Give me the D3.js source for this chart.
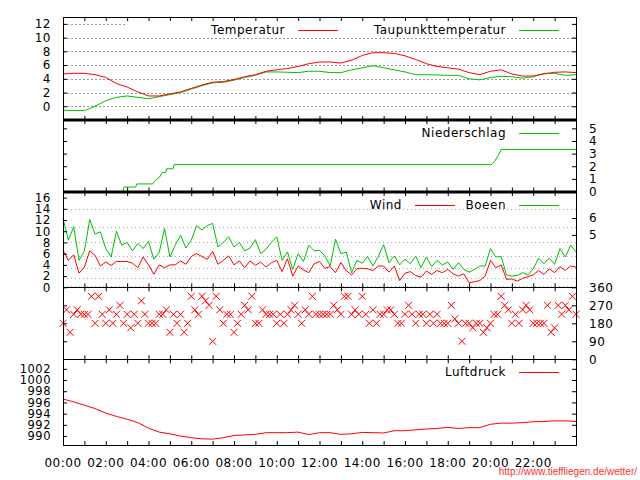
<!DOCTYPE html>
<html>
<head>
<meta charset="utf-8">
<script src="https://cdn.jsdelivr.net/npm/d3@7"></script>
<style>
  body { margin: 0; background: #fff; }
  svg text { font-family: "DejaVu Sans", sans-serif; font-size: 12px; letter-spacing: 0.5px; fill: #000; }
  .grid1 { stroke: #9a9a9a; stroke-dasharray: 2,2; }
  .grid3 { stroke: #a8a8a8; stroke-dasharray: 1,3; }
  .tick line { stroke: #000; }
</style>
</head>
<body>
<div id="chart"></div>
<script>
// x axis labels (every 2 hours)
var hourLabels = ["00:00", "02:00", "04:00", "06:00", "08:00", "10:00",
                  "12:00", "14:00", "16:00", "18:00", "20:00", "22:00"];

// temperature / dew point / pressure, one value every 30 min (00:00 .. 24:00)
var temperatur = [4.7, 4.8, 4.8, 4.6, 4.2, 3.3, 2.8, 2.1, 1.5, 1.5, 1.8, 2.1, 2.6, 3.1, 3.5, 3.6,
  3.9, 4.3, 4.6, 5.1, 5.3, 5.5, 5.8, 6.2, 6.45, 6.45, 6.3, 6.7, 7.4, 7.8, 7.8, 7.7,
  7.35, 6.8, 6.2, 5.8, 5.6, 5.4, 4.9, 4.6, 5.1, 5.3, 4.7, 4.4, 4.4, 4.7, 4.95, 5.0, 4.9];
var taupunkt = [-0.6, -0.6, -0.65, 0.0, 0.8, 1.3, 1.5, 1.3, 1.1, 1.4, 1.7, 2.0, 2.5, 3.0, 3.4, 3.5,
  3.8, 4.2, 4.5, 5.0, 5.0, 4.95, 4.9, 5.1, 5.1, 4.9, 4.9, 5.3, 5.6, 5.9, 5.6, 5.3,
  5.0, 4.6, 4.6, 4.55, 4.5, 4.5, 4.0, 3.85, 4.2, 4.35, 4.3, 4.1, 4.3, 4.8, 4.8, 4.5, 4.6];
var luftdruck = [996.6, 996.1, 995.5, 994.9, 994.1, 993.5, 993.0, 992.4, 991.4, 990.7, 990.4, 990.0,
  989.7, 989.5, 989.45, 989.7, 990.1, 990.2, 990.3, 990.6, 990.6, 990.6, 990.7, 990.25,
  990.6, 990.6, 990.3, 990.4, 990.65, 990.6, 990.55, 990.95, 990.95, 991.1, 991.25, 991.35,
  991.55, 991.35, 991.5, 991.5, 992.1, 992.3, 992.3, 992.4, 992.55, 992.6, 992.7, 992.7, 992.6];

// precipitation (cumulative mm) at given hours
var regenZeit  = [0, 2.8, 2.85, 3.4, 3.45, 4.2, 4.3, 4.5, 4.65, 4.8, 4.85, 5.15, 5.2, 20.05, 20.2, 20.37, 20.5, 24];
var regenMenge = [0, 0, 0.35, 0.35, 0.6, 0.6, 0.85, 1.1, 1.5, 1.5, 1.8, 1.8, 2.13, 2.13, 2.4, 2.87, 3.33, 3.33];

// wind and gusts (m/s), one value every 15 min
var wind = [6.6, 4.8, 5.8, 2.5, 3.6, 6.5, 5.7, 3.8, 4.5, 3.9, 4.6, 4.6, 4.6, 4.3, 3.5, 5.4,
  4.0, 2.3, 4.0, 3.5, 4.0, 4.0, 4.7, 4.1, 5.5, 6.0, 5.5, 5.0, 6.4, 4.1, 4.8, 5.6,
  4.0, 4.7, 3.5, 4.7, 3.9, 4.5, 3.6, 4.4, 4.8, 2.8, 5.1, 2.0, 3.8, 3.1, 2.6, 4.2,
  4.6, 3.4, 3.7, 2.6, 4.4, 3.0, 2.2, 3.3, 3.4, 3.3, 3.0, 3.8, 3.8, 2.7, 3.8, 1.2,
  2.5, 2.8, 2.1, 1.8, 2.9, 2.3, 3.0, 2.6, 3.2, 2.4, 2.0, 2.4, 0.8, 1.0, 1.2, 2.0,
  4.8, 3.5, 4.0, 1.4, 1.5, 1.1, 1.6, 1.9, 2.2, 3.0, 2.3, 3.3, 2.6, 3.7, 3.0, 3.8, 3.6];
var boeen = [12.3, 8.4, 10.8, 4.8, 6.5, 12.1, 9.5, 9.9, 6.9, 5.4, 10.0, 7.5, 8.0, 6.5, 7.8, 6.9,
  8.2, 5.0, 6.2, 10.5, 5.4, 7.5, 9.3, 7.0, 8.4, 11.0, 10.2, 11.0, 11.4, 7.2, 8.0, 9.0,
  7.2, 8.0, 6.5, 7.0, 8.5, 6.0, 6.8, 8.0, 9.0, 4.8, 6.3, 3.2, 6.0, 4.6, 7.5, 6.5,
  6.6, 5.6, 3.8, 8.6, 6.0, 6.3, 2.6, 4.8, 4.3, 5.5, 3.8, 5.5, 7.6, 4.4, 5.6, 4.0,
  5.0, 4.2, 5.6, 3.5, 5.4, 3.7, 4.8, 4.0, 4.5, 3.2, 4.4, 3.2, 2.7, 3.2, 3.8, 3.8,
  6.9, 5.4, 5.5, 2.2, 2.0, 2.1, 2.6, 2.2, 3.3, 5.2, 4.2, 5.2, 4.1, 6.9, 5.4, 7.5, 6.3];

// wind direction (degrees), one value every 10 min
var richtung = [180, 247.5, 135, 225, 247.5, 225, 225, 225, 315, 180, 315, 225, 180, 247.5, 180, 225,
  270, 180, 225, 157.5, 225, 180, 292.5, 225, 180, 180, 180, 225, 225, 247.5, 135, 225,
  180, 225, 135, 180, 315, 247.5, 225, 315, 292.5, 270, 90, 315, 247.5, 180, 225, 225,
  135, 180, 225, 270, 247.5, 315, 180, 180, 247.5, 225, 225, 225, 180, 225, 180, 225,
  247.5, 270, 225, 180, 247.5, 225, 315, 225, 225, 225, 225, 225, 270, 247.5, 225, 315,
  315, 225, 247.5, 225, 315, 225, 180, 247.5, 180, 225, 225, 247.5, 247.5, 225, 180, 180,
  225, 270, 225, 180, 225, 225, 180, 225, 180, 225, 180, 180, 180, 270, 202.5, 180,
  90, 180, 180, 157.5, 180, 180, 135, 157.5, 180, 225, 225, 315, 270, 247.5, 180, 225,
  180, 247.5, 270, 247.5, 180, 180, 180, 180, 270, 135, 157.5, 270, 225, 270, 247.5, 315, 225];

// Beaufort scale (m/s): class borders and label positions on right axis of wind panel
var bftGrenzen = [0.3, 1.6, 3.4, 5.5, 8.0, 10.8, 13.9];
var bftLabels = ["5", "6"];
var bftMitte = [9.35, 12.35];

var W = 640, H = 480;
var left = 63, right = 576;
var red = "#ff0000", green = "#00c000";

var svg = d3.select("#chart").append("svg")
  .attr("width", W).attr("height", H);

var x = d3.scaleLinear().domain([0, 24]).range([left, right]);

var panels = [
  { top: 17, bottom: 120, dom: [-2, 13] },
  { top: 120, bottom: 191.5, dom: [0, 5.66] },
  { top: 192, bottom: 287.3, dom: [0, 17] },
  { top: 287.3, bottom: 359.3, dom: [0, 360] },
  { top: 359.3, bottom: 445, dom: [988.4, 1003.7] }
];
panels.forEach(function(p) {
  p.y = d3.scaleLinear().domain(p.dom).range([p.bottom, p.top]);
});

var hourTicks = d3.range(0, 25);
var t30 = d3.range(0, 49).map(function(i) { return i * 0.5; });
var t15 = d3.range(0, 97).map(function(i) { return i * 0.25; });
var t10 = d3.range(0, 145).map(function(i) { return i / 6; });

function line(p) {
  return d3.line().x(function(d) { return x(d[0]); }).y(function(d) { return p.y(d[1]); });
}
function zip(a, b) { return a.map(function(v, i) { return [v, b[i]]; }); }

function frame(p, leftVals, leftLabels, rightVals, rightLabels, fs) {
  fs = fs || "12px";
  var g = svg.append("g");
  // hour ticks top and bottom
  g.append("g").attr("transform", "translate(0," + p.bottom + ")")
    .call(d3.axisBottom(x).tickValues(hourTicks).tickSize(-4).tickFormat(""))
    .select(".domain").remove();
  g.append("g").attr("transform", "translate(0," + p.top + ")")
    .call(d3.axisTop(x).tickValues(hourTicks).tickSize(-4).tickFormat(""))
    .select(".domain").remove();
  var la = d3.axisLeft(p.y).tickValues(leftVals).tickSize(-4).tickPadding(12)
    .tickFormat(leftLabels ? function(d) { return d; } : "");
  g.append("g").attr("transform", "translate(" + left + ",0)").call(la)
    .call(function(s) { s.select(".domain").remove(); s.selectAll("text").style("font-size", fs).style("font-family", null); });
  var ra = d3.axisRight(p.y).tickValues(rightVals).tickSize(-4).tickPadding(13)
    .tickFormat(function(d, i) { return rightLabels ? rightLabels[i] : ""; });
  g.append("g").attr("transform", "translate(" + right + ",0)").call(ra)
    .call(function(s) { s.select(".domain").remove(); s.selectAll("text").style("font-size", "12px").style("font-family", null); });
  return g;
}

function border(p) {
  svg.append("rect").attr("x", left).attr("y", p.top)
    .attr("width", right - left).attr("height", p.bottom - p.top)
    .attr("fill", "none").attr("stroke", "#000").attr("shape-rendering", "crispEdges");
}

function legend(p, items) {
  // items drawn right to left: text ends 13px before its sample line
  var lx = 519;
  var ly = p.top + 13;
  var g = svg.append("g");
  for (var i = items.length - 1; i >= 0; i--) {
    g.append("line").attr("x1", lx).attr("x2", lx + 40).attr("y1", ly).attr("y2", ly)
      .attr("stroke", items[i].color).attr("shape-rendering", "crispEdges");
    g.append("text").attr("x", lx - 13).attr("y", ly + 4)
      .attr("text-anchor", "end").text(items[i].name);
    lx = items[i].next;
  }
}

function path(p, data, color) {
  svg.append("path").datum(data).attr("d", line(p))
    .attr("fill", "none").attr("stroke", color).attr("stroke-width", 1)
    .attr("stroke-linejoin", "miter");
}

// ---- panel 1: Temperatur / Taupunkt
var p1 = panels[0];
svg.append("g").selectAll("line").data(d3.range(0, 13, 2)).enter().append("line")
  .attr("class", "grid1").attr("x1", left).attr("x2", right)
  .attr("y1", function(d) { return Math.round(p1.y(d)) + 0.5; })
  .attr("y2", function(d) { return Math.round(p1.y(d)) + 0.5; });
svg.append("rect").attr("x", 125).attr("y", 19).attr("width", right - 126).attr("height", 15).attr("fill", "#fff");
path(p1, zip(t30, taupunkt), green);
path(p1, zip(t30, temperatur), red);
frame(p1, d3.range(0, 13, 2), true, d3.range(0, 13, 2), null);
legend(p1, [{ name: "Temperatur", color: red, next: 0 }, { name: "Taupunkttemperatur", color: green, next: 298 }]);

// ---- panel 2: Niederschlag
var p2 = panels[1];
path(p2, zip(regenZeit, regenMenge), green);
frame(p2, [1, 2, 3, 4, 5], false, [0, 1, 2, 3, 4, 5], ["0", "1", "2", "3", "4", "5"]);
legend(p2, [{ name: "Niederschlag", color: green, next: 0 }]);

// ---- panel 3: Wind / Boeen
var p3 = panels[2];
svg.append("g").selectAll("line").data(bftGrenzen).enter().append("line")
  .attr("class", "grid3").attr("x1", left).attr("x2", right)
  .attr("y1", function(d) { return Math.round(p3.y(d)) + 0.5; })
  .attr("y2", function(d) { return Math.round(p3.y(d)) + 0.5; });
path(p3, zip(t15, boeen), green);
path(p3, zip(t15, wind), red);
frame(p3, d3.range(0, 17, 2), true, bftMitte, bftLabels);
legend(p3, [{ name: "Wind", color: red, next: 0 }, { name: "Boeen", color: green, next: 415 }]);

// ---- panel 4: Windrichtung
var p4 = panels[3];
svg.append("g").selectAll("path").data(zip(t10, richtung)).enter().append("path")
  .attr("d", function(d) {
    var cx = x(d[0]), cy = p4.y(d[1]), r = 3.5;
    return "M" + (cx - r) + "," + (cy - r) + "L" + (cx + r) + "," + (cy + r) +
           "M" + (cx - r) + "," + (cy + r) + "L" + (cx + r) + "," + (cy - r);
  })
  .attr("stroke", red).attr("fill", "none");
frame(p4, [90, 180, 270], false, [0, 90, 180, 270, 360], ["0", "90", "180", "270", "360"]);

// ---- panel 5: Luftdruck
var p5 = panels[4];
path(p5, zip(t30, luftdruck), red);
frame(p5, d3.range(990, 1003, 2), true, d3.range(990, 1003, 2), null, "11.5px");
legend(p5, [{ name: "Luftdruck", color: red, next: 0 }]);

panels.forEach(border);
// heavier joints between the upper panels
[120, 192].forEach(function(yy) {
  svg.append("line").attr("x1", left).attr("x2", right).attr("y1", yy).attr("y2", yy)
    .attr("stroke", "#000").attr("stroke-width", 3);
});

// x labels
svg.append("g").selectAll("text").data(hourLabels).enter().append("text")
  .attr("x", function(d, i) { return x(i * 2); })
  .attr("y", 467).attr("text-anchor", "middle").text(function(d) { return d; });

svg.append("text").attr("x", 637).attr("y", 475).attr("text-anchor", "end")
  .style("font-family", "'Liberation Sans', Arial, sans-serif").style("font-size", "10px")
  .style("letter-spacing", "0").style("fill", "#ff3030")
  .text("http://www.tieffliegen.de/wetter/");
</script>
</body>
</html>
